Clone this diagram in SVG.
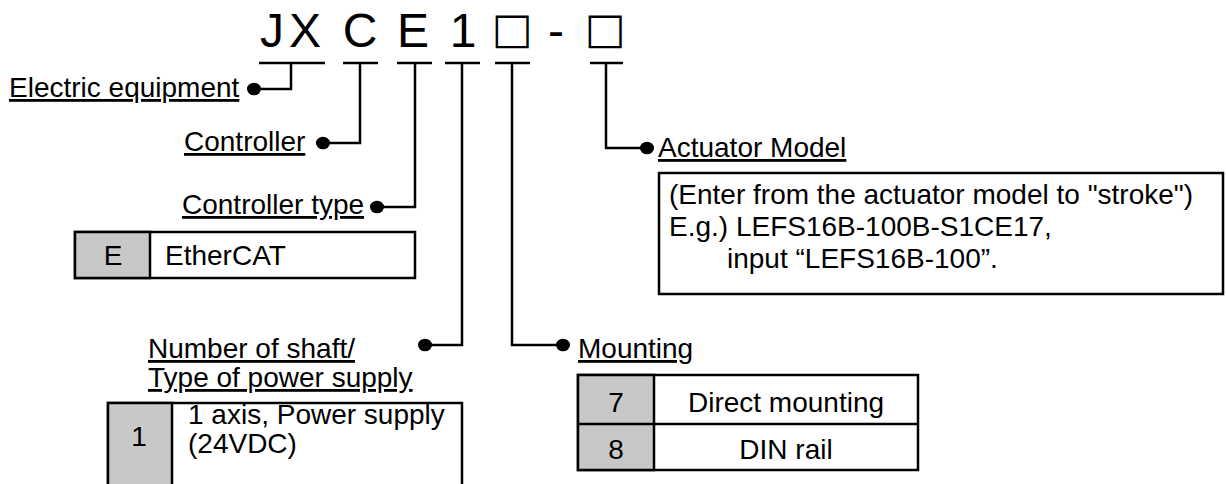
<svg xmlns="http://www.w3.org/2000/svg" width="1226" height="484" viewBox="0 0 1226 484">
<style>
.t{font-family:"Liberation Sans",Arial,"DejaVu Sans",sans-serif;font-size:28px;fill:#000}
.u{text-decoration:underline}
.ttl{font-family:"Liberation Sans",Arial,"DejaVu Sans",sans-serif;font-size:48px;fill:#000;text-anchor:middle}
.sq{font-family:"DejaVu Sans","Liberation Sans",sans-serif;font-size:43px;fill:#000;text-anchor:middle}
.ln{stroke:#000;stroke-width:2.5;fill:none}
.box{stroke:#000;stroke-width:2.5;fill:#fff}
.g{fill:#c8c8c8;stroke:#000;stroke-width:2.5}
.m{text-anchor:middle}
.dot{fill:#000}
</style>
<rect width="1226" height="484" fill="#fff"/>
<g id="title">
<text class="ttl" x="272" y="47">J</text>
<text class="ttl" x="305" y="47">X</text>
<text class="ttl" x="360" y="47">C</text>
<text class="ttl" x="413" y="47">E</text>
<text class="ttl" x="463" y="47">1</text>
<text class="sq" x="512" y="43">□</text>
<text class="ttl" x="556" y="47">-</text>
<text class="sq" x="605" y="43">□</text>
<line class="ln" x1="259" y1="63" x2="325" y2="63"/>
<line class="ln" x1="343" y1="63" x2="378" y2="63"/>
<line class="ln" x1="397" y1="63" x2="432" y2="63"/>
<line class="ln" x1="445" y1="63" x2="480" y2="63"/>
<line class="ln" x1="495" y1="63" x2="530" y2="63"/>
<line class="ln" x1="590" y1="63" x2="623" y2="63"/>
</g>
<g id="connectors">
<polyline class="ln" points="291,63 291,89 254,89"/>
<ellipse class="dot" cx="254" cy="89" rx="7" ry="6.3"/>
<polyline class="ln" points="360,63 360,143 323,143"/>
<ellipse class="dot" cx="323" cy="143" rx="7" ry="6.3"/>
<polyline class="ln" points="415,63 415,207 377,207"/>
<ellipse class="dot" cx="377" cy="207" rx="7" ry="6.3"/>
<polyline class="ln" points="462,63 462,345 425,345"/>
<ellipse class="dot" cx="425" cy="345" rx="7" ry="6.3"/>
<polyline class="ln" points="512,63 512,345 563,345"/>
<ellipse class="dot" cx="563" cy="345" rx="7" ry="6.3"/>
<polyline class="ln" points="606,63 606,148 647,148"/>
<ellipse class="dot" cx="647" cy="148" rx="7" ry="6.3"/>
</g>
<g id="electric-equipment">
<text class="t u" x="9" y="97">Electric equipment</text>
</g>
<g id="controller">
<text class="t u" x="184" y="151">Controller</text>
</g>
<g id="controller-type">
<text class="t u" x="182" y="214">Controller type</text>
<rect class="box" x="75" y="232" width="340" height="46"/>
<rect class="g" x="75" y="232" width="75" height="46"/>
<text class="t m" x="113" y="265">E</text>
<text class="t" x="165" y="265">EtherCAT</text>
</g>
<g id="number-of-shaft">
<text class="t u" x="148" y="358">Number of shaft/</text>
<text class="t u" x="148" y="387">Type of power supply</text>
<rect class="box" x="108" y="403" width="354" height="100"/>
<rect class="g" x="108" y="403" width="64" height="100"/>
<text class="t m" x="139" y="446">1</text>
<text class="t" x="188" y="424">1 axis, Power supply</text>
<text class="t" x="188" y="453">(24VDC)</text>
</g>
<g id="mounting">
<text class="t u" x="578" y="358">Mounting</text>
<rect class="box" x="578" y="375" width="340" height="95"/>
<rect class="g" x="578" y="375" width="76" height="95"/>
<line class="ln" x1="578" y1="424" x2="918" y2="424"/>
<text class="t m" x="616" y="412">7</text>
<text class="t m" x="786" y="412">Direct mounting</text>
<text class="t m" x="616" y="459">8</text>
<text class="t m" x="786" y="459">DIN rail</text>
</g>
<g id="actuator-model">
<text class="t u" x="658" y="157">Actuator Model</text>
<rect class="box" x="659" y="173" width="564" height="121"/>
<text class="t" x="669" y="204">(Enter from the actuator model to "stroke")</text>
<text class="t" x="669" y="236">E.g.) LEFS16B-100B-S1CE17,</text>
<text class="t" x="727" y="268">input “LEFS16B-100”.</text>
</g>
</svg>
